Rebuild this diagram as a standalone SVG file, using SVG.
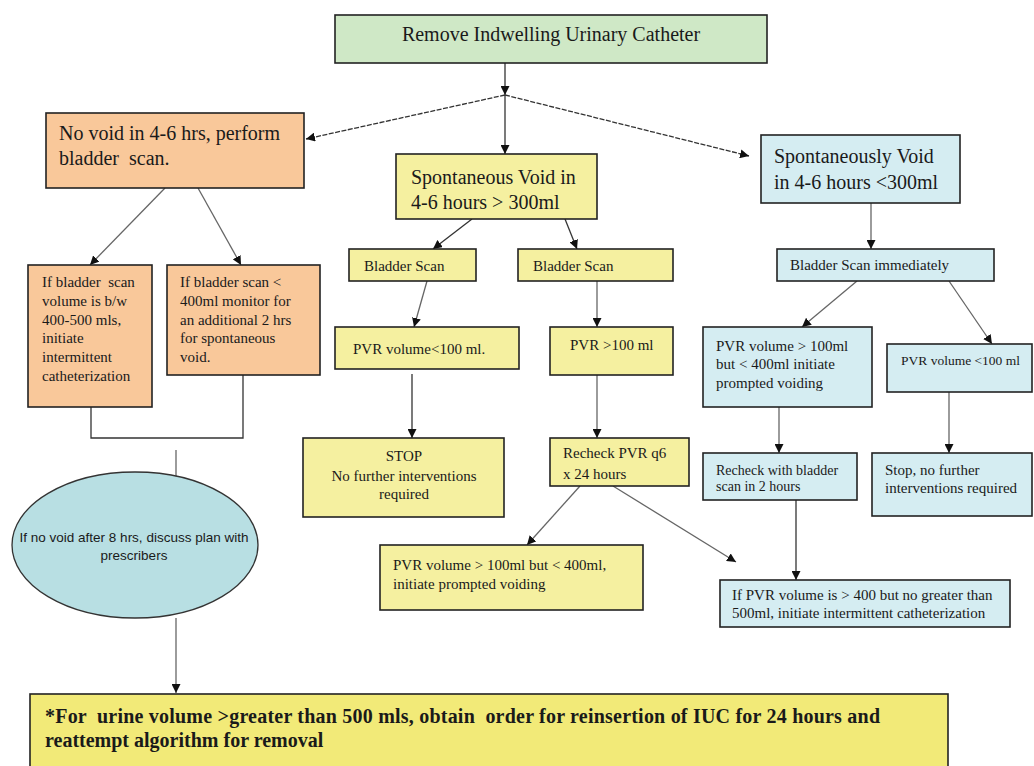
<svg xmlns="http://www.w3.org/2000/svg" width="1034" height="766" viewBox="0 0 1034 766">
<style>
.b{stroke:#222;stroke-width:1.6}
.g{fill:#cfe8c6}
.o{fill:#f9c89a}
.y{fill:#f5f0a0}
.c{fill:#d5edf2}
.t{font-family:"Liberation Serif","Times New Roman",serif;fill:#1a1a1a}
.f20{font-size:20px}
.f15{font-size:15px}
.f14{font-size:14px}
.f13{font-size:13.5px}
.s{font-family:"Liberation Sans",Arial,sans-serif;font-size:13.5px;fill:#1a1a1a}
.bold{font-weight:bold}
.ln{stroke:#333;stroke-width:1.3;fill:none}
.lg{stroke:#666;stroke-width:1.3;fill:none}
.d{stroke-dasharray:5 1.5}
</style>
<defs>
<marker id="ah" viewBox="0 0 10 10" refX="10" refY="5" markerWidth="9" markerHeight="9" markerUnits="userSpaceOnUse" orient="auto">
<path d="M0,0 L10,5 L0,10 z" fill="#111"/>
</marker>
</defs>
<rect width="1034" height="766" fill="#fff"/>

<g id="connectors">
<line class="ln" x1="505" y1="63" x2="505" y2="95" marker-end="url(#ah)"/>
<line class="ln d" x1="505" y1="95" x2="306" y2="139" marker-end="url(#ah)"/>
<line class="ln" x1="505" y1="95" x2="505" y2="154" marker-end="url(#ah)"/>
<line class="ln d" x1="505" y1="95" x2="749" y2="156" marker-end="url(#ah)"/>
<line class="lg" x1="165" y1="188" x2="90" y2="265" marker-end="url(#ah)"/>
<line class="lg" x1="198" y1="188" x2="241" y2="265" marker-end="url(#ah)"/>
<polyline class="ln" points="91,407 91,438 243,438 243,375"/>
<line class="lg" x1="176" y1="450" x2="176" y2="477"/>
<line class="lg" x1="176" y1="618" x2="176" y2="693" marker-end="url(#ah)"/>
<line class="ln" x1="472" y1="219" x2="433" y2="249" marker-end="url(#ah)"/>
<line class="ln" x1="565" y1="219" x2="577" y2="249" marker-end="url(#ah)"/>
<line class="lg" x1="427" y1="281" x2="414" y2="327" marker-end="url(#ah)"/>
<line class="lg" x1="597" y1="281" x2="597" y2="327" marker-end="url(#ah)"/>
<line class="ln" x1="412" y1="374" x2="412" y2="438" marker-end="url(#ah)"/>
<line class="lg" x1="597" y1="375" x2="597" y2="438" marker-end="url(#ah)"/>
<line class="lg" x1="580" y1="486" x2="527" y2="545" marker-end="url(#ah)"/>
<line class="lg" x1="613" y1="486" x2="736" y2="562" marker-end="url(#ah)"/>
<line class="lg" x1="871" y1="203" x2="871" y2="249" marker-end="url(#ah)"/>
<line class="lg" x1="857" y1="281" x2="802" y2="327" marker-end="url(#ah)"/>
<line class="lg" x1="949" y1="281" x2="992" y2="344" marker-end="url(#ah)"/>
<line class="lg" x1="779" y1="407" x2="779" y2="453" marker-end="url(#ah)"/>
<line class="lg" x1="949" y1="392" x2="949" y2="453" marker-end="url(#ah)"/>
<line class="ln" x1="796" y1="500" x2="796" y2="580" marker-end="url(#ah)"/>
</g>

<g id="n-remove">
<rect class="b g" x="335" y="15" width="432" height="48"/>
<text class="t f20" x="551" y="41" text-anchor="middle">Remove Indwelling Urinary Catheter</text>
</g>

<g id="n-novoid">
<rect class="b o" x="46" y="113" width="258" height="75"/>
<text class="t f20" x="59" y="140">No void in 4-6 hrs, perform</text>
<text class="t f20" x="59" y="165" xml:space="preserve">bladder  scan.</text>
</g>

<g id="n-spont-gt300">
<rect class="b y" x="396" y="154" width="201" height="65"/>
<text class="t f20" x="411" y="184">Spontaneous Void in</text>
<text class="t f20" x="411" y="209">4-6 hours &gt; 300ml</text>
</g>

<g id="n-spont-lt300">
<rect class="b c" x="761" y="135" width="199" height="68"/>
<text class="t f20" x="774" y="163">Spontaneously Void</text>
<text class="t f20" x="774" y="189">in 4-6 hours &lt;300ml</text>
</g>

<g id="n-scan-400-500">
<rect class="b o" x="28" y="265" width="124" height="142"/>
<text class="t f15" x="42" y="287" xml:space="preserve">If bladder  scan</text>
<text class="t f15" x="42" y="306">volume is b/w</text>
<text class="t f15" x="42" y="325">400-500 mls,</text>
<text class="t f15" x="42" y="343">initiate</text>
<text class="t f15" x="42" y="362">intermittent</text>
<text class="t f15" x="42" y="381">catheterization</text>
</g>

<g id="n-scan-lt400">
<rect class="b o" x="167" y="265" width="153" height="110"/>
<text class="t f15" x="180" y="287">If bladder scan &lt;</text>
<text class="t f15" x="180" y="306">400ml monitor for</text>
<text class="t f15" x="180" y="325">an additional 2 hrs</text>
<text class="t f15" x="180" y="343">for spontaneous</text>
<text class="t f15" x="180" y="362">void.</text>
</g>

<g id="n-ellipse">
<ellipse cx="135" cy="545" rx="123" ry="73" fill="#b8dfe3" stroke="#333" stroke-width="1.3"/>
<text class="s" x="134" y="542" text-anchor="middle">If no void after 8 hrs, discuss plan with</text>
<text class="s" x="134" y="560" text-anchor="middle">prescribers</text>
</g>

<g id="n-bladder-scan-1">
<rect class="b y" x="349" y="249" width="127" height="32"/>
<text class="t f15" x="364" y="271">Bladder Scan</text>
</g>

<g id="n-bladder-scan-2">
<rect class="b y" x="518" y="249" width="155" height="32"/>
<text class="t f15" x="533" y="271">Bladder Scan</text>
</g>

<g id="n-pvr-lt100">
<rect class="b y" x="335" y="327" width="184" height="42"/>
<text class="t f15" x="353" y="354">PVR volume&lt;100 ml.</text>
</g>

<g id="n-pvr-gt100">
<rect class="b y" x="550" y="327" width="123" height="48"/>
<text class="t f15" x="570" y="350">PVR &gt;100 ml</text>
</g>

<g id="n-stop">
<rect class="b y" x="303" y="438" width="201" height="79"/>
<text class="t f15" x="404" y="461" text-anchor="middle">STOP</text>
<text class="t f15" x="404" y="481" text-anchor="middle">No further interventions</text>
<text class="t f15" x="404" y="499" text-anchor="middle">required</text>
</g>

<g id="n-recheck-q6">
<rect class="b y" x="550" y="438" width="139" height="48"/>
<text class="t f15" x="563" y="458">Recheck PVR q6</text>
<text class="t f15" x="563" y="479">x 24 hours</text>
</g>

<g id="n-prompted-yellow">
<rect class="b y" x="380" y="545" width="263" height="65"/>
<text class="t f15" x="393" y="570">PVR volume &gt; 100ml but &lt; 400ml,</text>
<text class="t f15" x="393" y="589">initiate prompted voiding</text>
</g>

<g id="n-scan-immediately">
<rect class="b c" x="777" y="249" width="217" height="32"/>
<text class="t f15" x="790" y="270">Bladder Scan immediately</text>
</g>

<g id="n-pvr-100-400">
<rect class="b c" x="703" y="327" width="169" height="80"/>
<text class="t f15" x="716" y="351">PVR volume &gt; 100ml</text>
<text class="t f15" x="716" y="369">but &lt; 400ml initiate</text>
<text class="t f15" x="716" y="388">prompted voiding</text>
</g>

<g id="n-pvr-lt100-blue">
<rect class="b c" x="887" y="344" width="145" height="48"/>
<text class="t f13" x="901" y="365">PVR volume &lt;100 ml</text>
</g>

<g id="n-recheck-2h">
<rect class="b c" x="703" y="453" width="154" height="47"/>
<text class="t f14" x="716" y="475">Recheck with bladder</text>
<text class="t f14" x="716" y="491">scan in 2 hours</text>
</g>

<g id="n-stop-blue">
<rect class="b c" x="872" y="453" width="160" height="63"/>
<text class="t f15" x="885" y="475">Stop, no further</text>
<text class="t f15" x="885" y="493">interventions required</text>
</g>

<g id="n-pvr-400-500">
<rect class="b c" x="720" y="580" width="290" height="47"/>
<text class="t f15" x="732" y="600">If PVR volume is &gt; 400 but no greater than</text>
<text class="t f15" x="732" y="618">500ml, initiate intermittent catheterization</text>
</g>

<g id="n-reinsert">
<rect class="b" fill="#f2ea78" x="30" y="694" width="918" height="80"/>
<text class="t f20 bold" x="45" y="723" textLength="835" xml:space="preserve">*For  urine volume &gt;greater than 500 mls, obtain  order for reinsertion of IUC for 24 hours and</text>
<text class="t f20 bold" x="45" y="747">reattempt algorithm for removal</text>
</g>
</svg>
